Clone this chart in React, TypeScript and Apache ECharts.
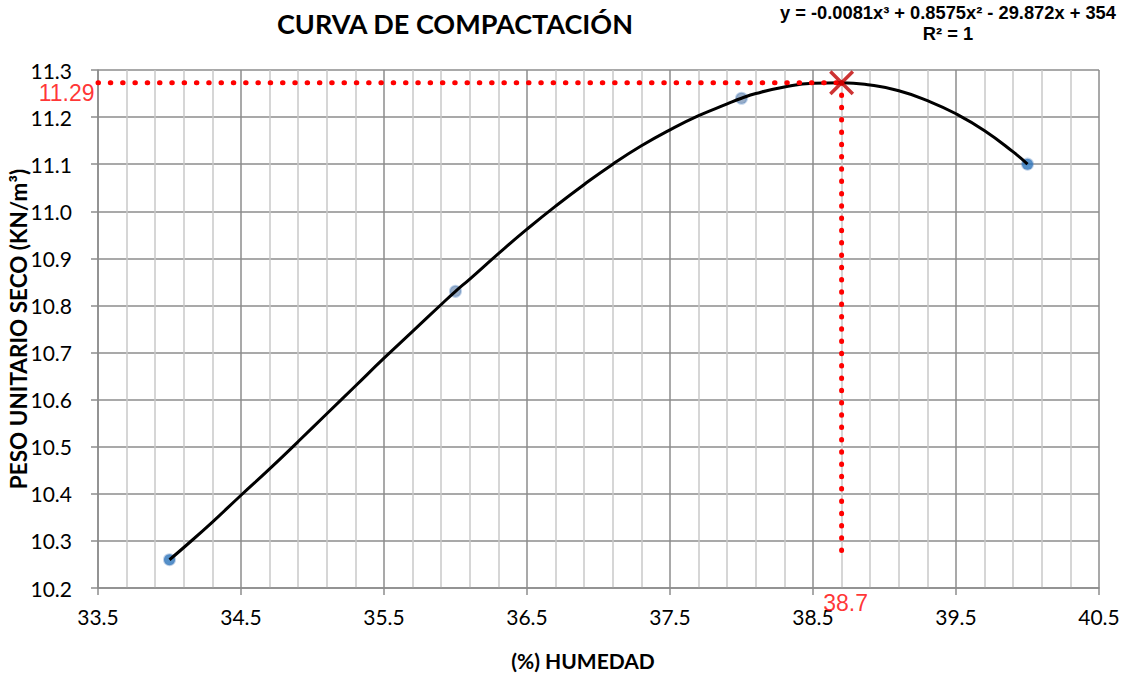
import React, { useEffect, useRef } from "react";
import * as echarts from "echarts";

// Measured points
const humedad = [34, 36, 38, 40];
const pesoSeco = [10.26, 10.83, 11.24, 11.1];
const pointColors = ["#2B74BC", "#7F9ABA", "#7F9ABA", "#2B74BC"];

// Trendline
const curveX = [34, 34.1, 34.3, 34.5, 34.7, 34.9, 35.1, 35.3, 35.5, 35.7, 35.9, 36, 36.1, 36.3, 36.5, 36.7, 36.9, 37.1, 37.3, 37.5, 37.7, 37.9, 38, 38.1, 38.3, 38.5, 38.7, 38.9, 39.1, 39.3, 39.5, 39.7, 39.9, 40];
const curveY = [10.26, 10.286, 10.34, 10.397, 10.453, 10.511, 10.57, 10.629, 10.688, 10.745, 10.802, 10.83, 10.856, 10.91, 10.962, 11.011, 11.057, 11.1, 11.139, 11.173, 11.203, 11.228, 11.24, 11.25, 11.264, 11.272, 11.273, 11.268, 11.256, 11.235, 11.207, 11.171, 11.126, 11.1];

// Optimum
const optX = 38.7;
const optY = 11.273;
const optYLabel = "11.29";
const optXLabel = "38.7";
const guideBottomY = 10.26;

// Axes
const xMin = 33.5;
const xMax = 40.5;
const xStep = 1;
const yMin = 10.2;
const yMax = 11.3;
const yStep = 0.1;

const titleText = "CURVA DE COMPACTACIÓN";
const equationText = "y = -0.0081x³ + 0.8575x² - 29.872x + 354\nR² = 1";
const xName = "(%) HUMEDAD";
const yName = "PESO UNITARIO SECO (KN/m³)";

const crossPath =
  "path://M0,2 L2,0 L10,8 L18,0 L20,2 L12,10 L20,18 L18,20 L10,12 L2,20 L0,18 L8,10 Z";

export default function App() {
  const ref = useRef<HTMLDivElement>(null);
  useEffect(() => {
    if (!ref.current) return;
    const chart = echarts.init(ref.current, null, { renderer: "svg" });
    const axisFont = { fontFamily: "Lato", fontSize: 21, color: "#000" };
    chart.setOption({
      animation: false,
      backgroundColor: "#fff",
      title: {
        text: titleText,
        left: 272,
        top: 5,
        textStyle: { fontFamily: "Lato", fontWeight: "bold", fontSize: 27, color: "#000" },
      },
      graphic: [
        {
          type: "text",
          x: 948,
          y: 2,
          style: {
            text: equationText,
            fontFamily: "Liberation Sans",
            fontWeight: "bold",
            fontSize: 18.3,
            lineHeight: 21,
            fill: "#000",
            align: "center",
            verticalAlign: "top",
          },
        },
        {
          type: "text",
          x: 583,
          y: 660,
          style: {
            text: xName,
            fontFamily: "Lato",
            fontWeight: "bold",
            fontSize: 21,
            fill: "#000",
            align: "center",
            verticalAlign: "middle",
          },
        },
      ],
      grid: {
        left: 98,
        top: 70,
        width: 1001,
        height: 518,
        containLabel: false,
        outerBoundsMode: "none",
      },
      xAxis: {
        type: "value",
        min: xMin,
        max: xMax,
        interval: xStep,
        axisLine: { show: true, lineStyle: { color: "#8C8C8C", width: 1.5 } },
        axisTick: { show: true, length: 7, lineStyle: { color: "#8C8C8C", width: 1.5 } },
        axisLabel: { ...axisFont, margin: 18, formatter: (v: number) => v.toFixed(1) },
        splitLine: { show: true, lineStyle: { color: "#8C8C8C", width: 1.5 } },
        minorTick: { show: false, splitNumber: 5 },
        minorSplitLine: { show: true, lineStyle: { color: "#C8C8C8", width: 1.5 } },
      },
      yAxis: {
        type: "value",
        min: yMin,
        max: yMax,
        interval: yStep,
        name: yName,
        nameLocation: "middle",
        nameGap: 68,
        nameMoveOverlap: false,
        nameTextStyle: { fontFamily: "Lato", fontWeight: "bold", fontSize: 22.5, color: "#000" },
        axisLine: { show: true, lineStyle: { color: "#8C8C8C", width: 1.5 } },
        axisTick: { show: true, length: 7, lineStyle: { color: "#8C8C8C", width: 1.5 } },
        axisLabel: { ...axisFont, margin: 26, formatter: (v: number) => v.toFixed(1) },
        splitLine: { show: true, lineStyle: { color: "#8C8C8C", width: 1.5 } },
      },
      series: [
        {
          type: "scatter",
          name: "puntos",
          z: 2,
          symbol: "circle",
          symbolSize: 11,
          data: humedad.map((x, i) => ({
            value: [x, pesoSeco[i]],
            itemStyle: { color: pointColors[i], borderColor: "rgba(80,130,190,0.45)", borderWidth: 2 },
          })),
        },
        {
          type: "line",
          name: "tendencia",
          z: 3,
          smooth: true,
          showSymbol: false,
          symbol: "none",
          lineStyle: { color: "#000", width: 3 },
          data: curveX.map((x, i) => [x, curveY[i]]),
        },
        {
          type: "line",
          name: "guiaH",
          z: 4,
          symbol: "none",
          lineStyle: { color: "#FF0000", width: 5, type: [0.5, 11.8], cap: "round" },
          data: [
            [xMin, optY],
            [optX, optY],
          ],
        },
        {
          type: "line",
          name: "guiaV",
          z: 4,
          symbol: "none",
          lineStyle: { color: "#FF0000", width: 5, type: [0.5, 11.8], cap: "round" },
          data: [
            [optX, optY],
            [optX, guideBottomY],
          ],
        },
        {
          type: "scatter",
          name: "optimo",
          z: 5,
          symbol: crossPath,
          symbolSize: 25,
          itemStyle: { color: "#C00000" },
          data: [[optX, optY]],
        },
        {
          type: "scatter",
          name: "etiquetaY",
          z: 6,
          symbolSize: 1,
          itemStyle: { color: "rgba(0,0,0,0)" },
          label: {
            show: true,
            position: "left",
            distance: 3,
            offset: [0, 10],
            formatter: optYLabel,
            fontFamily: "Liberation Sans",
            fontSize: 23,
            color: "#FF0000",
          },
          data: [[xMin, optY]],
        },
        {
          type: "scatter",
          name: "etiquetaX",
          z: 6,
          symbolSize: 1,
          itemStyle: { color: "rgba(0,0,0,0)" },
          label: {
            show: true,
            position: "bottom",
            distance: 3,
            offset: [4, 0],
            formatter: optXLabel,
            fontFamily: "Liberation Sans",
            fontSize: 23,
            color: "#FF0000",
          },
          data: [[optX, yMin]],
        },
      ],
    });
    return () => chart.dispose();
  }, []);
  return (
    <div
      ref={ref}
      style={{ position: "fixed", left: 0, top: 0, width: 1131, height: 675, background: "#fff" }}
    />
  );
}
